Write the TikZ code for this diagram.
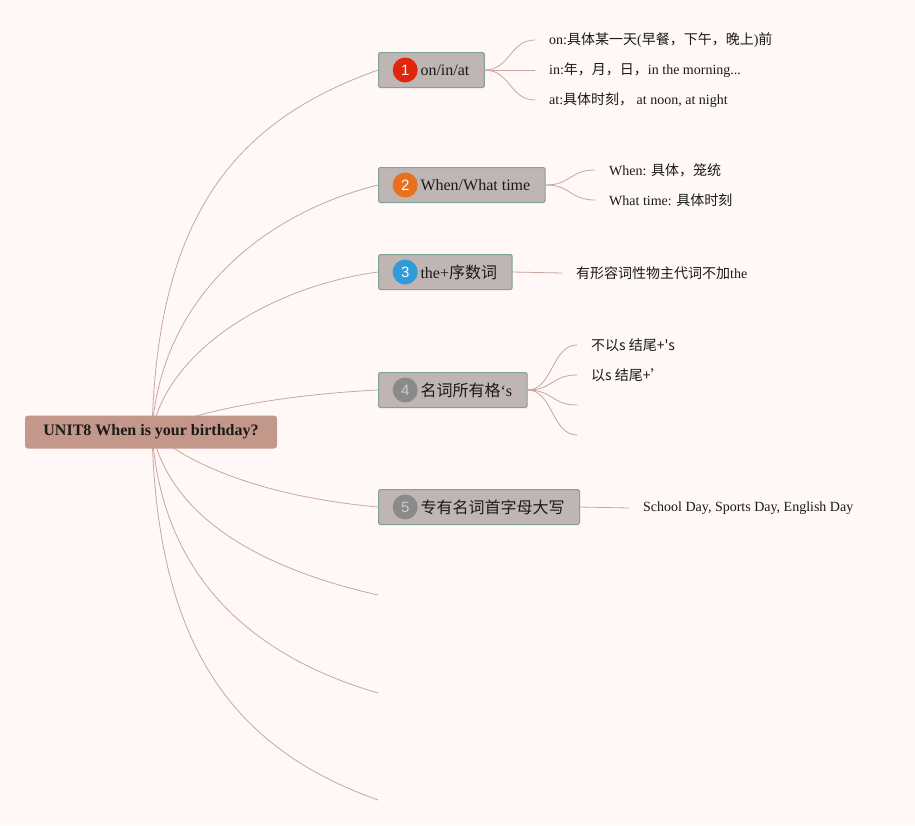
\documentclass[tikz,border=0pt]{standalone}
\usepackage{fontspec}
\setmainfont{Liberation Serif}
\newfontfamily\cjk{Noto Sans CJK SC}
\newfontfamily\numfont{Liberation Sans}
\usetikzlibrary{calc, positioning}
\definecolor{paper}{HTML}{FFF8F7}
\definecolor{rootfill}{HTML}{C4978B}
\definecolor{topicfill}{HTML}{BFB5B3}
\definecolor{topicedge}{HTML}{7FA396}
\definecolor{branch}{HTML}{C9A69F}
\definecolor{ink}{HTML}{1A1A1A}
\definecolor{bred}{HTML}{E0260C}
\definecolor{borange}{HTML}{E8701E}
\definecolor{bblue}{HTML}{2F9BD8}
\definecolor{bgrey}{HTML}{8C8A88}
\newcommand{\zh}[1]{{\cjk #1}}
\tikzset{br/.style={branch, line width=0.8pt, line cap=round},
  rootbox/.style={fill=rootfill, rounded corners=3pt, minimum width=252pt, minimum height=33pt, inner sep=0pt, font=\fontsize{16}{18}\selectfont\bfseries, text=ink},
  topic/.style={draw=topicedge, fill=topicfill, line width=1pt, rounded corners=1.5pt, anchor=west, minimum height=35pt, inner xsep=15pt, inner ysep=0pt, font=\fontsize{16}{18}\selectfont, text=ink},
  badge/.style={circle, fill=#1, minimum size=25pt, inner sep=0pt, font=\numfont\fontsize{15}{15}\selectfont, text=white},
  leaf/.style={anchor=west, inner xsep=14pt, inner ysep=2pt, font=\fontsize{14}{16}\selectfont, text=ink}}

\begin{document}
\begin{tikzpicture}[x=1pt, y=-1pt]
  \useasboundingbox[fill=paper] (0,0) rectangle (915,825);
  \node[topic] (t1) at (378,70) {\hspace*{27pt}on/in/at};
  \node[topic] (t2) at (378,185) {\hspace*{27pt}When/What time};
  \node[topic] (t3) at (378,272) {\hspace*{27pt}the+\zh{序数词}};
  \node[topic] (t4) at (378,390) {\hspace*{27pt}\zh{名词所有格}‘s};
  \node[topic] (t5) at (378,507) {\hspace*{27pt}\zh{专有名词首字母大写}};
  \node[badge=bred, right=14.5pt of t1.west] (n1) {1};
  \node[badge=borange, right=14.5pt of t2.west] (n2) {2};
  \node[badge=bblue, right=14.5pt of t3.west] (n3) {3};
  \node[badge=bgrey, right=14.5pt of t4.west, text=black!20] (n4) {4};
  \node[badge=bgrey, right=14.5pt of t5.west, text=black!20] (n5) {5};

  \node[leaf] (l11) at (535,40) {on:\zh{具体某一天}(\zh{早餐，下午，晚上})\zh{前}};
  \node[leaf] (l12) at (535,70) {in:\zh{年，月，日，}in the morning...};
  \node[leaf] (l13) at (535,100) {at:\zh{具体时刻，} at noon, at night};
  \node[leaf] (l21) at (595,170) {When: \zh{具体，笼统}};
  \node[leaf] (l22) at (595,200) {What time: \zh{具体时刻}};
  \node[leaf] (l31) at (562,273) {\zh{有形容词性物主代词不加}the};
  \node[leaf] (l41) at (577,345) {\zh{不以s 结尾+'s}};
  \node[leaf] (l42) at (577,375) {\zh{以s 结尾+’}};
  \coordinate (l43) at (577,405);
  \coordinate (l44) at (577,435);
  \node[leaf] (l51) at (629,508) {School Day, Sports Day, English Day};

  \foreach \a/\b in {t1/l11,t1/l12,t1/l13,t2/l21,t2/l22,t3/l31,t4/l41,t4/l42,t4/l43,t4/l44,t5/l51}
    \draw[br] (\a.east) .. controls +(25,0) and +(-25,0) .. (\b.west);

  \coordinate (hub) at (152,432);
  \coordinate (e6) at (378,595);
  \coordinate (e7) at (378,693);
  \coordinate (e8) at (378,800);
  \draw[br] (hub) .. controls +(5,-220) and +(-140,50) .. (t1.west);
  \draw[br] (hub) .. controls +(8,-130) and +(-120,30) .. (t2.west);
  \draw[br] (hub) .. controls +(15,-80) and +(-110,15) .. (t3.west);
  \draw[br] (hub) .. controls +(40,-20) and +(-100,5) .. (t4.west);
  \draw[br] (hub) .. controls +(40,35) and +(-110,-10) .. (t5.west);
  \draw[br] (hub) .. controls +(20,90) and +(-110,-25) .. (e6);
  \draw[br] (hub) .. controls +(10,150) and +(-120,-35) .. (e7);
  \draw[br] (hub) .. controls +(5,220) and +(-140,-50) .. (e8);
  \node[rootbox] (root) at (151,432) {UNIT8 When is your birthday?};
\end{tikzpicture}
\end{document}
